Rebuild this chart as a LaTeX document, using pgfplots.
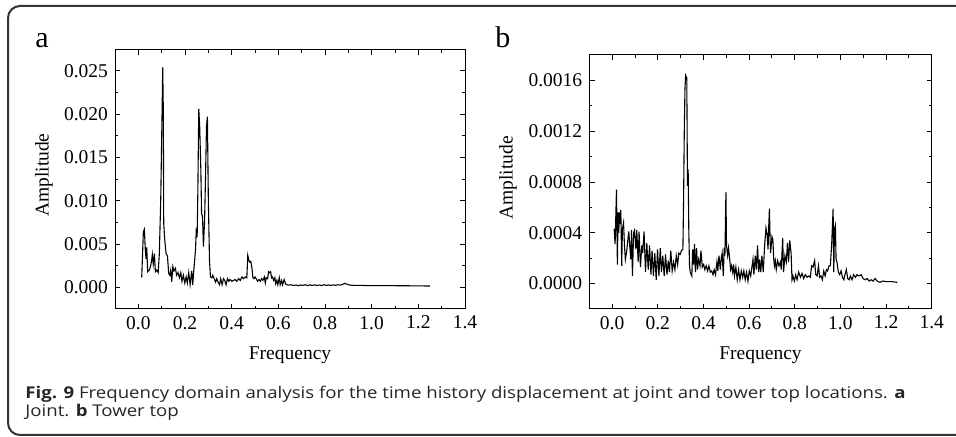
\documentclass[border=0pt]{standalone}
\usepackage{fontspec}
\setmainfont{Liberation Serif}
\newfontfamily\capfont{Open Sans}
\usepackage{pgfplots}
\pgfplotsset{compat=1.18}
\usepackage{pgfplotstable}

\pgfplotstableread{
f A
0.0145 0.00115
0.0215 0.0064
0.0258 0.0067
0.030 0.0043
0.033 0.0033
0.036 0.0046
0.040 0.0018
0.0475 0.0020
0.053 0.0025
0.057 0.0031
0.060 0.0038
0.064 0.0027
0.069 0.0039
0.073 0.0018
0.079 0.0020
0.085 0.0017
0.090 0.0039
0.096 0.0101
0.1017 0.0201
0.1045 0.0254
0.107 0.0205
0.1088 0.0074
0.113 0.0055
0.119 0.0039
0.125 0.0036
0.130 0.0016
0.135 0.0014
0.139 0.0020
0.143 0.00065
0.148 0.0024
0.153 0.0019
0.159 0.0022
0.164 0.0014
0.170 0.0017
0.176 0.0011
0.182 0.0017
0.187 0.0007
0.193 0.0014
0.199 0.0005
0.205 0.0012
0.210 0.0005
0.216 0.0017
0.222 0.0003
0.229 0.0019
0.233 0.0003
0.239 0.0024
0.245 0.0043
0.248 0.0064
0.252 0.0058
0.255 0.0109
0.259 0.0206
0.263 0.0185
0.268 0.0135
0.271 0.0085
0.275 0.0082
0.279 0.0047
0.284 0.0078
0.288 0.0128
0.292 0.0185
0.296 0.0197
0.300 0.0101
0.305 0.0031
0.309 0.0012
0.315 0.0011
0.319 0.0014
0.325 0.0010
0.331 0.0006
0.336 0.0010
0.342 0.0006
0.348 0.0003
0.353 0.0010
0.359 0.0003
0.365 0.0010
0.370 0.0008
0.376 0.0003
0.382 0.0010
0.388 0.0007
0.393 0.0009
0.401 0.0007
0.408 0.0008
0.415 0.0009
0.422 0.0007
0.430 0.0010
0.437 0.0008
0.444 0.0012
0.451 0.0010
0.458 0.0012
0.465 0.0011
0.469 0.0037
0.474 0.0031
0.478 0.0029
0.482 0.0030
0.487 0.0022
0.491 0.0011
0.495 0.0010
0.500 0.0012
0.505 0.0010
0.511 0.0007
0.517 0.0009
0.523 0.0007
0.528 0.0010
0.534 0.0008
0.540 0.0012
0.544 0.0005
0.548 0.0011
0.554 0.0010
0.558 0.0018
0.562 0.0017
0.567 0.0018
0.571 0.0011
0.575 0.0012
0.580 0.0008
0.585 0.0011
0.589 0.0004
0.594 0.0008
0.598 0.0003
0.604 0.0011
0.608 0.0003
0.614 0.0008
0.618 0.0003
0.625 0.0009
0.631 0.0004
0.637 0.0003
0.645 0.00025
0.655 0.0003
0.665 0.00020
0.675 0.00027
0.685 0.00019
0.695 0.00028
0.705 0.00022
0.715 0.00030
0.725 0.00021
0.735 0.00028
0.745 0.00022
0.755 0.00029
0.765 0.00020
0.775 0.00027
0.785 0.00021
0.795 0.00030
0.805 0.00022
0.815 0.00028
0.825 0.00021
0.835 0.00029
0.845 0.00023
0.855 0.00030
0.865 0.00025
0.875 0.00034
0.885 0.00045
0.893 0.00038
0.902 0.00028
0.915 0.00024
0.93 0.00022
0.95 0.00023
0.97 0.00021
1.00 0.00020
1.05 0.00020
1.10 0.00019
1.15 0.00018
1.20 0.00017
1.249 0.00015
}\dataA

\pgfplotstableread{
f A
0.009 0.00043
0.013 0.00031
0.019 0.00074
0.023 0.00015
0.026 0.00056
0.029 0.00040
0.032 0.00056
0.035 0.00047
0.038 0.00058
0.042 0.00014
0.045 0.00043
0.050 0.00048
0.054 0.00030
0.058 0.00019
0.064 0.00026
0.069 0.00035
0.073 0.00041
0.077 0.00030
0.082 0.00019
0.085 0.00042
0.089 0.00006
0.094 0.00040
0.098 0.00042
0.104 0.00027
0.108 0.00042
0.114 0.00017
0.118 0.00041
0.124 0.00013
0.130 0.00030
0.134 0.00024
0.140 0.00041
0.146 0.00009
0.152 0.00032
0.158 0.00011
0.164 0.00030
0.170 0.00007
0.175 0.00026
0.181 0.00006
0.187 0.00024
0.193 0.00003
0.199 0.00027
0.205 0.00006
0.211 0.00028
0.216 0.00009
0.222 0.00022
0.228 0.00006
0.234 0.00023
0.240 0.00007
0.246 0.00018
0.251 0.00009
0.257 0.00026
0.263 0.00010
0.269 0.00017
0.275 0.00011
0.281 0.00022
0.287 0.00015
0.292 0.00024
0.298 0.00023
0.304 0.00026
0.310 0.00027
0.313 0.00066
0.316 0.00119
0.319 0.00153
0.322 0.00164
0.327 0.00162
0.330 0.00077
0.333 0.00090
0.336 0.00040
0.339 0.00014
0.342 0.00009
0.349 0.00006
0.353 0.00027
0.357 0.00015
0.361 0.00031
0.365 0.00009
0.370 0.00028
0.374 0.00011
0.379 0.00019
0.385 0.00014
0.389 0.00026
0.395 0.00013
0.401 0.00015
0.406 0.00011
0.412 0.00014
0.418 0.00010
0.424 0.00014
0.430 0.00009
0.436 0.00010
0.442 0.00007
0.447 0.00011
0.453 0.00007
0.459 0.00017
0.463 0.00010
0.468 0.00022
0.474 0.00011
0.478 0.00020
0.482 0.00024
0.487 0.00006
0.491 0.00028
0.494 0.00022
0.4985 0.00072
0.501 0.00030
0.506 0.00022
0.510 0.00028
0.515 0.00019
0.519 0.00011
0.523 0.00014
0.528 0.00009
0.532 0.00015
0.536 0.00006
0.542 0.00013
0.548 0.00003
0.554 0.00011
0.560 0.00003
0.566 0.00010
0.572 0.00005
0.577 0.00010
0.583 0.00003
0.589 0.00009
0.595 0.00002
0.601 0.00010
0.607 0.00006
0.613 0.00014
0.617 0.00019
0.621 0.00007
0.627 0.00022
0.632 0.00011
0.637 0.00030
0.642 0.00009
0.646 0.00019
0.651 0.00009
0.656 0.00022
0.662 0.00009
0.668 0.00030
0.674 0.00044
0.678 0.00040
0.683 0.00027
0.686 0.00045
0.689 0.00059
0.692 0.00035
0.694 0.00024
0.697 0.00030
0.700 0.00037
0.704 0.00035
0.708 0.00019
0.711 0.00014
0.715 0.00018
0.719 0.00011
0.725 0.00018
0.731 0.00014
0.737 0.00017
0.741 0.00011
0.747 0.00036
0.751 0.00009
0.757 0.00022
0.763 0.00017
0.768 0.00032
0.773 0.00017
0.778 0.00034
0.784 0.00024
0.788 0.00003
0.792 0.00006
0.798 0.00002
0.804 0.00007
0.810 0.00003
0.817 0.00009
0.825 0.00005
0.832 0.00008
0.839 0.00004
0.846 0.00007
0.854 0.00005
0.861 0.00006
0.868 0.00005
0.874 0.00014
0.880 0.00013
0.887 0.00018
0.892 0.00007
0.898 0.00006
0.904 0.00014
0.909 0.00005
0.915 0.00006
0.921 0.00003
0.927 0.00010
0.933 0.00006
0.939 0.00011
0.944 0.00010
0.950 0.00014
0.956 0.00014
0.962 0.00032
0.968 0.00059
0.971 0.00009
0.974 0.00043
0.978 0.00046
0.981 0.00019
0.985 0.00017
0.991 0.00009
0.997 0.00007
1.003 0.00010
1.009 0.00005
1.015 0.00003
1.020 0.00007
1.026 0.00011
1.032 0.00004
1.038 0.00003
1.044 0.00006
1.051 0.00003
1.058 0.00007
1.066 0.00005
1.073 0.00007
1.082 0.00006
1.091 0.00007
1.099 0.00004
1.108 0.00003
1.117 0.00004
1.126 0.00002
1.135 0.00003
1.143 0.00002
1.152 0.00004
1.161 0.00002
1.173 0.00001
1.184 0.00002
1.205 0.000015
1.227 0.000015
1.249 0.00001
}\dataB

\pgfplotsset{
  myaxis/.style={
    scale only axis,
    anchor=south west,
    axis line style={line width=0.5pt},
    tick style={line width=0.45pt, black},
    major tick length=2.6pt,
    minor tick length=1.5pt,
    xmin=-0.1, xmax=1.4,
    xtick={0,0.2,0.4,0.6,0.8,1.0,1.2,1.4},
    minor x tick num=1,
    minor y tick num=1,
    scaled y ticks=false,
    scaled x ticks=false,
    x tick label style={/pgf/number format/.cd, fixed, fixed zerofill, precision=1, assume math mode=true},
    tick label style={font=\fontsize{9.75pt}{11pt}\selectfont},
    label style={font=\fontsize{9.75pt}{11pt}\selectfont},
    xlabel={Frequency},
    ylabel={Amplitude},
  }
}

\begin{document}
\begin{tikzpicture}
\useasboundingbox (0pt,0pt) rectangle (478pt,218.5pt);
\draw[line width=1pt, black!80, rounded corners=6pt] (4pt,1pt) rectangle (487.5pt,215.5pt);

\begin{axis}[myaxis,
  at={(57.5pt,64pt)},
  width=175pt, height=129.5pt,
  ymin=-0.0025, ymax=0.0274,
  ytick={0,0.005,0.010,0.015,0.020,0.025},
  y tick label style={/pgf/number format/.cd, fixed, fixed zerofill, precision=3, assume math mode=true},
  xlabel style={at={(axis description cs:0.5,-0.178)}, anchor=center},
  ylabel style={at={(axis description cs:-0.203,0.517)}, anchor=center},
]
\addplot[black, line width=0.55pt] table[x=f, y=A] {\dataA};
\end{axis}

\begin{axis}[myaxis,
  at={(294.65pt,64pt)},
  width=171.2pt, height=127pt,
  ymin=-0.0002, ymax=0.0018,
  ytick={0,0.0004,0.0008,0.0012,0.0016},
  y tick label style={/pgf/number format/.cd, fixed, fixed zerofill, precision=4, assume math mode=true},
  xlabel style={at={(axis description cs:0.5,-0.181)}, anchor=center},
  ylabel style={at={(axis description cs:-0.2375,0.516)}, anchor=center},
]
\addplot[black, line width=0.55pt] table[x=f, y=A] {\dataB};
\end{axis}

\node[anchor=base west, inner sep=0, font=\fontsize{15pt}{17pt}\selectfont] at (17.5pt,194.5pt) {a};
\node[anchor=base west, inner sep=0, font=\fontsize{15pt}{17pt}\selectfont] at (247.5pt,194.5pt) {b};

\node[anchor=base west, inner sep=0, text=black!85, font=\capfont\fontsize{8.1pt}{10pt}\selectfont] at (12.5pt,19pt) {\scalebox{1.15}[1]{\textbf{Fig. 9} Frequency domain analysis for the time history displacement at joint and tower top locations. \textbf{a}}};
\node[anchor=base west, inner sep=0, text=black!85, font=\capfont\fontsize{8.1pt}{10pt}\selectfont] at (12.5pt,10pt) {\scalebox{1.15}[1]{Joint. \textbf{b} Tower top}};
\end{tikzpicture}
\end{document}
